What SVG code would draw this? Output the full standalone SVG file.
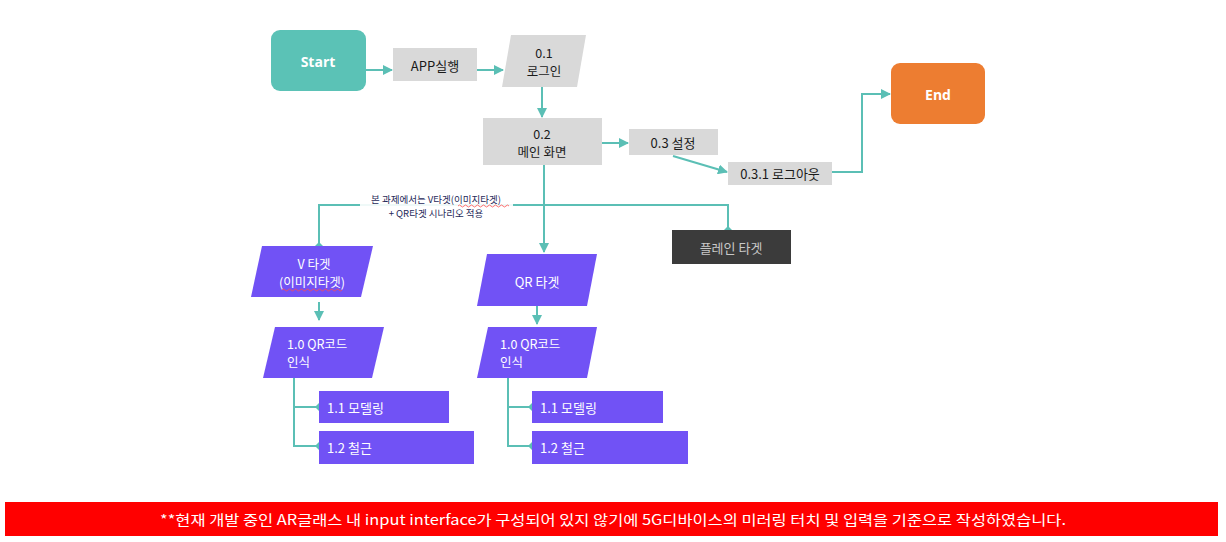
<svg xmlns="http://www.w3.org/2000/svg" width="1226" height="542" viewBox="0 0 1226 542">
<style>
.k{font-family:"Noto Sans CJK KR","Malgun Gothic",sans-serif;font-size:13px;text-anchor:middle;dominant-baseline:central}
.kl{font-family:"Noto Sans CJK KR","Malgun Gothic",sans-serif;font-size:13px;dominant-baseline:central}
.m{font-size:12.5px}
.dark{fill:#1a1a1a}
.wh{fill:#ffffff}
.gray{fill:#d9d9d9}
.pur{fill:#7152f5}
.ln{fill:none;stroke:#5bbfb5;stroke-width:2}
.se{font-family:"Open Sans","Noto Sans",sans-serif;font-weight:bold;font-size:14px;fill:#ffffff;text-anchor:middle;dominant-baseline:central}
.sq{fill:none;stroke:#ff4d4d;stroke-width:0.8}
.lb{font-family:"Noto Sans CJK KR",sans-serif;font-size:9.5px;fill:#1f2a5a;text-anchor:middle;dominant-baseline:central}
</style>
<defs>
<marker id="ar" viewBox="0 0 10 10" refX="9" refY="5" markerWidth="5" markerHeight="5" orient="auto" markerUnits="strokeWidth">
<path d="M0,0 L10,5 L0,10 z" fill="#5bbfb5"/>
</marker>
<marker id="dt" viewBox="0 0 10 10" refX="5" refY="5" markerWidth="4" markerHeight="4" orient="auto" markerUnits="strokeWidth">
<path d="M5,0 L10,5 L5,10 L0,5 z" fill="#5bbfb5"/>
</marker>
</defs>
<rect width="1226" height="542" fill="#ffffff"/>

<g id="connectors">
<line class="ln" x1="366" y1="70" x2="392" y2="70" marker-end="url(#ar)"/>
<line class="ln" x1="477" y1="70" x2="503" y2="70" marker-end="url(#ar)"/>
<line class="ln" x1="542" y1="87" x2="542" y2="117" marker-end="url(#ar)"/>
<line class="ln" x1="602" y1="143" x2="628" y2="143" marker-end="url(#ar)"/>
<line class="ln" x1="673" y1="156" x2="727" y2="172" marker-end="url(#ar)"/>
<polyline class="ln" points="832,172 862,172 862,94 890,94" marker-end="url(#ar)"/>
<line class="ln" x1="544" y1="165" x2="544" y2="252" marker-end="url(#ar)"/>
<polyline class="ln" points="544,205 319,205 319,246" marker-end="url(#dt)"/>
<polyline class="ln" points="544,205 728,205 728,230" marker-end="url(#dt)"/>
<line class="ln" x1="319" y1="302" x2="319" y2="320" marker-end="url(#ar)"/>
<line class="ln" x1="537" y1="306" x2="537" y2="324" marker-end="url(#ar)"/>
<polyline class="ln" points="294,378 294,407 319,407" marker-end="url(#dt)"/>
<polyline class="ln" points="294,407 294,446 319,446" marker-end="url(#dt)"/>
<polyline class="ln" points="508,378 508,407 532,407" marker-end="url(#dt)"/>
<polyline class="ln" points="508,407 508,446 532,446" marker-end="url(#dt)"/>
<rect x="360" y="193" width="153" height="27" fill="#ffffff" opacity="0.9"/>
<text class="lb" x="436" y="199">본 과제에서는 V타겟(이미지타겟)</text>
<text class="lb" x="436" y="213">+ QR타겟 시나리오 적용</text>
<path class="sq" d="M458,206 q1.5,-2 3,0 t3,0 t3,0 t3,0 t3,0 t3,0 t3,0 t3,0 t3,0 t3,0 t3,0 t3,0 t3,0 t3,0 t3,0 t3,0 t3,0"/>
</g>

<g id="start">
<rect x="271" y="30" width="95" height="61" rx="9" fill="#5bc2b6"/>
<text class="se" x="318" y="61">Start</text>
</g>
<g id="app">
<rect class="gray" x="393" y="48" width="84" height="33"/>
<text class="k dark" x="435" y="65">APP실행</text>
</g>
<g id="login">
<polygon class="gray" points="511,35 586,35 577,87 502,87"/>
<text class="k m dark" x="544" y="52">0.1</text>
<text class="k m dark" x="544" y="70">로그인</text>
</g>
<g id="main">
<rect class="gray" x="483" y="118" width="119" height="47"/>
<text class="k m dark" x="542" y="133">0.2</text>
<text class="k m dark" x="542" y="151">메인 화면</text>
</g>
<g id="settings">
<rect class="gray" x="629" y="129" width="89" height="26"/>
<text class="k dark" x="673" y="142">0.3 설정</text>
</g>
<g id="logout">
<rect class="gray" x="728" y="162" width="104" height="23"/>
<text class="k dark" x="780" y="173">0.3.1 로그아웃</text>
</g>
<g id="end">
<rect x="891" y="63" width="94" height="61" rx="9" fill="#ed7d31"/>
<text class="se" x="938" y="94">End</text>
</g>
<g id="plane">
<rect x="672" y="230" width="119" height="34" fill="#3b3b3b"/>
<text class="k" x="731" y="247" style="fill:#c8c8c8">플레인 타겟</text>
</g>
<g id="vtarget">
<polygon class="pur" points="262,246 373,246 361,297 251,297"/>
<text class="k m wh" x="314" y="263">V 타겟</text>
<text class="k m wh" x="312" y="281">(이미지타겟)</text>
<path class="sq" d="M282,290 q1.5,-2 3,0 t3,0 t3,0 t3,0 t3,0 t3,0 t3,0 t3,0 t3,0 t3,0 t3,0 t3,0 t3,0 t3,0 t3,0 t3,0 t3,0 t3,0 t3,0 t3,0"/>
</g>
<g id="qrtarget">
<polygon class="pur" points="487,254 597,254 587,306 477,306"/>
<text class="k wh" x="537" y="281">QR 타겟</text>
</g>
<g id="qr-left">
<polygon class="pur" points="275,327 384,327 372,378 263,378"/>
<text class="kl m wh" x="287" y="343">1.0 QR코드</text>
<text class="kl m wh" x="287" y="361">인식</text>
</g>
<g id="qr-right">
<polygon class="pur" points="488,327 597,327 587,378 477,378"/>
<text class="kl m wh" x="500" y="343">1.0 QR코드</text>
<text class="kl m wh" x="500" y="361">인식</text>
</g>
<g id="model-left">
<rect class="pur" x="319" y="391" width="130" height="32"/>
<text class="kl wh" x="327" y="407">1.1 모델링</text>
</g>
<g id="rebar-left">
<rect class="pur" x="319" y="431" width="155" height="33"/>
<text class="kl wh" x="327" y="447">1.2 철근</text>
</g>
<g id="model-right">
<rect class="pur" x="532" y="391" width="131" height="32"/>
<text class="kl wh" x="540" y="407">1.1 모델링</text>
</g>
<g id="rebar-right">
<rect class="pur" x="532" y="431" width="156" height="33"/>
<text class="kl wh" x="540" y="447">1.2 철근</text>
</g>
<g id="banner">
<rect x="5" y="502" width="1213" height="34" fill="#ff0000"/>
<text x="613" y="519" textLength="906" lengthAdjust="spacingAndGlyphs" style="font-family:'Noto Sans CJK KR',sans-serif;font-size:14px;fill:#ffffff;text-anchor:middle;dominant-baseline:central">**현재 개발 중인 AR글래스 내 input interface가  구성되어 있지 않기에 5G디바이스의 미러링 터치 및 입력을 기준으로 작성하였습니다.</text>
</g>
</svg>
